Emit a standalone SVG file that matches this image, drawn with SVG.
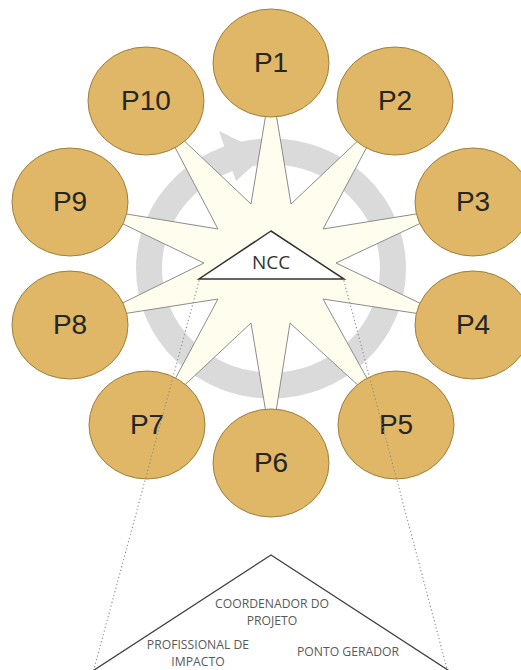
<svg xmlns="http://www.w3.org/2000/svg" width="521" height="670" viewBox="0 0 521 670">
  <style>
    .p { fill: #DFB767; stroke: #9E7F3E; stroke-width: 1; }
    .pt { font-family: "Liberation Sans", Arial, sans-serif; font-size: 28px; fill: #262626; text-anchor: middle; }
    .bt { font-family: "Open Sans", "Liberation Sans", sans-serif; font-size: 12.2px; fill: #595959; text-anchor: middle; }
    .dot { fill: none; stroke: #8C8C8C; stroke-width: 1.3; stroke-dasharray: 0.1 3.6; stroke-linecap: round; }
  </style>
  <rect width="521" height="670" fill="#ffffff"/>
  <g id="cycle">
    <ellipse cx="271" cy="268.5" rx="122" ry="117" fill="none" stroke="#DADADA" stroke-width="26"/>
    <polygon points="219,131 266,154 236,181" fill="#DADADA"/>
  </g>
  <g id="star">
    <polygon points="271,83 291,204 383,117 323,229 453,208 336,263 453,319 323,299 384,409 290,323 271,443 251,323 159,409 218,299 90,319 204,263 90,208 218,229 159,117 251,204" fill="#FEFDEE" stroke="#8C8C8C" stroke-width="1"/>
  </g>
  <g id="P1"><ellipse class="p" cx="271" cy="63" rx="58" ry="54"/><text class="pt" x="271" y="72">P1</text></g>
  <g id="P2"><ellipse class="p" cx="395" cy="101" rx="58" ry="54"/><text class="pt" x="395" y="110">P2</text></g>
  <g id="P3"><ellipse class="p" cx="473" cy="202" rx="58" ry="54"/><text class="pt" x="473" y="211">P3</text></g>
  <g id="P4"><ellipse class="p" cx="473" cy="325" rx="58" ry="54"/><text class="pt" x="473" y="334">P4</text></g>
  <g id="P5"><ellipse class="p" cx="396" cy="425" rx="58" ry="54"/><text class="pt" x="396" y="434">P5</text></g>
  <g id="P6"><ellipse class="p" cx="271" cy="463" rx="58" ry="54"/><text class="pt" x="271" y="472">P6</text></g>
  <g id="P7"><ellipse class="p" cx="147" cy="425" rx="58" ry="54"/><text class="pt" x="147" y="434">P7</text></g>
  <g id="P8"><ellipse class="p" cx="70" cy="325" rx="58" ry="54"/><text class="pt" x="70" y="334">P8</text></g>
  <g id="P9"><ellipse class="p" cx="70" cy="202" rx="58" ry="54"/><text class="pt" x="70" y="211">P9</text></g>
  <g id="P10"><ellipse class="p" cx="146" cy="101" rx="58" ry="54"/><text class="pt" x="146" y="110">P10</text></g>
  <g id="NCC">
    <polygon points="271,231 199,279 344,279" fill="#ffffff" stroke="#333333" stroke-width="1.5" stroke-linejoin="miter"/>
    <text x="271" y="269" font-family="'Open Sans', 'Liberation Sans', sans-serif" font-size="19" fill="#333333" text-anchor="middle">NCC</text>
  </g>
  <g id="connectors">
    <line class="dot" x1="199" y1="281" x2="91" y2="680"/>
    <line class="dot" x1="344" y1="281" x2="450" y2="680"/>
  </g>
  <g id="structure">
    <polygon points="271,555 48,700 494,700" fill="#ffffff" stroke="#404040" stroke-width="1.3"/>
    <text class="bt" x="272" y="608">COORDENADOR DO</text>
    <text class="bt" x="272" y="625">PROJETO</text>
    <text class="bt" x="198" y="649">PROFISSIONAL DE</text>
    <text class="bt" x="198" y="666">IMPACTO</text>
    <text class="bt" x="348" y="656">PONTO GERADOR</text>
  </g>
</svg>
